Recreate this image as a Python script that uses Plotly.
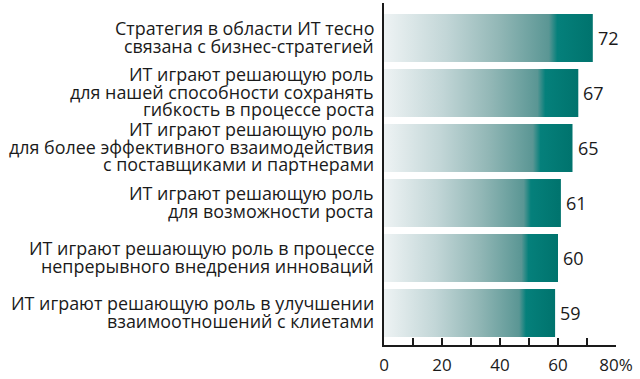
import plotly.graph_objects as go

categories = [
    ["Стратегия в области ИТ тесно", "связана с бизнес-стратегией"],
    ["ИТ играют решающую роль", "для нашей способности сохранять", "гибкость в процессе роста"],
    ["ИТ играют решающую роль", "для более эффективного взаимодействия", "с поставщиками и партнерами"],
    ["ИТ играют решающую роль", "для возможности роста"],
    ["ИТ играют решающую роль в процессе", "непрерывного внедрения инноваций"],
    ["ИТ играют решающую роль в улучшении", "взаимоотношений с клиетами"],
]
values = [72, 67, 65, 61, 60, 59]
tick_vals = [0, 10, 20, 30, 40, 50, 60, 70, 80]
tick_text = ["0", "", "20", "", "40", "", "60", "", "80%"]

FONT = "Open Sans"
half = 0.436
colorscale = [
    [0.0, "#eef3f4"],
    [0.3, "#c2d6d7"],
    [0.55, "#92b7b6"],
    [0.79, "#5a9694"],
    [0.83, "#05807b"],
    [1.0, "#00736d"],
]

fig = go.Figure()
for i, v in enumerate(values):
    fig.add_trace(go.Scatter(
        x=[0, v, v, 0, 0],
        y=[i - half, i - half, i + half, i + half, i - half],
        mode="lines",
        line=dict(width=0, color="rgba(0,0,0,0)"),
        fill="toself",
        fillgradient=dict(type="horizontal", colorscale=colorscale),
        hoverinfo="skip",
        showlegend=False,
    ))

annotations = []
line_pitch = 17.5
for i, lines in enumerate(categories):
    n = len(lines)
    for k, t in enumerate(lines):
        annotations.append(dict(
            x=0, y=i, xref="x", yref="y",
            text=t, showarrow=False,
            xanchor="right", yanchor="middle",
            xshift=-8, yshift=-(k - (n - 1) / 2) * line_pitch + 1,
            font=dict(family=FONT, size=17.9, color="#1a1a1a"),
        ))
for i, v in enumerate(values):
    annotations.append(dict(
        x=v, y=i, xref="x", yref="y",
        text=str(v), showarrow=False,
        xanchor="left", yanchor="middle",
        xshift=3,
        font=dict(family=FONT, size=18, color="#1a1a1a"),
    ))

fig.update_layout(
    width=640, height=379,
    margin=dict(l=384, r=24, t=3, b=34, autoexpand=False),
    paper_bgcolor="white", plot_bgcolor="white",
    annotations=annotations,
    xaxis=dict(
        range=[0, 80], tickvals=tick_vals, ticktext=tick_text,
        ticks="inside", ticklen=7, tickwidth=2, tickcolor="#1a1a1a",
        showline=True, linecolor="#1a1a1a", linewidth=2,
        showgrid=False, zeroline=False, automargin=False,
        ticklabelstandoff=4,
        tickfont=dict(family=FONT, size=17, color="#1a1a1a"),
    ),
    yaxis=dict(
        range=[5.582, -0.636], showticklabels=False, ticks="",
        showline=True, linecolor="#1a1a1a", linewidth=2,
        showgrid=False, zeroline=False, automargin=False,
    ),
)

fig.write_html(
    "out.html",
    config={"displayModeBar": False},
    post_script="document.body.style.margin='0';",
)
